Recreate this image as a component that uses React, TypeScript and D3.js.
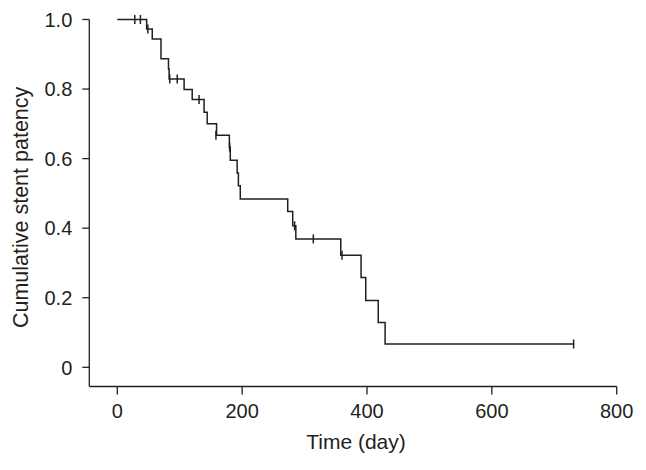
import React from "react";
import * as d3 from "d3";

const stepTimes = [0, 47, 56, 70, 82, 83, 107, 120, 139, 144, 159, 179.5, 181, 192, 194, 197, 273, 281, 286, 358, 390.5, 398, 418, 429, 731];
const survival = [1, 0.973, 0.944, 0.887, 0.858, 0.829, 0.799, 0.77, 0.733, 0.7, 0.667, 0.633, 0.595, 0.559, 0.522, 0.484, 0.448, 0.407, 0.369, 0.322, 0.258, 0.192, 0.129, 0.067, 0.067];
const censorTimes = [28, 37, 49, 84, 96, 131, 158, 180, 284, 314, 360, 731];
const censorSurv = [1, 1, 0.973, 0.829, 0.829, 0.77, 0.667, 0.633, 0.407, 0.369, 0.322, 0.067];
const xTicks = [0, 200, 400, 600, 800];
const yTicks = [0, 0.2, 0.4, 0.6, 0.8, 1.0];
const yTickLabels = ["0", "0.2", "0.4", "0.6", "0.8", "1.0"];
const xTitle = "Time (day)";
const yTitle = "Cumulative stent patency";

export default function App() {
  const W = 646, H = 470;
  const x = d3.scaleLinear().domain([0, 800]).range([117.3, 616.7]);
  const y = d3.scaleLinear().domain([0, 1]).range([367.3, 19.5]);
  const axisX = 89.3;
  const axisY = 386.5;
  const color = "#231f20";
  const font = "Liberation Sans, Arial, sans-serif";
  const pts: [number, number][] = stepTimes.map((t, i) => [t, survival[i]]);
  const line = d3.line<[number, number]>().x(d => x(d[0])).y(d => y(d[1])).curve(d3.curveStepAfter);
  return (
    <div style={{ position: "absolute", left: 0, top: 0 }}>
      <svg width={W} height={H} style={{ display: "block", background: "#fff" }}>
        <line x1={axisX} x2={axisX} y1={y(1)} y2={axisY} stroke={color} strokeWidth={1.3} />
        <line x1={axisX} x2={x(800)} y1={axisY} y2={axisY} stroke={color} strokeWidth={1.3} />
        {yTicks.map((v, i) => (
          <g key={"y" + i}>
            <line x1={axisX - 7} x2={axisX} y1={y(v)} y2={y(v)} stroke={color} strokeWidth={1.3} />
            <text x={axisX - 17} y={y(v)} dy="0.36em" textAnchor="end" fontFamily={font} fontSize={20} fill={color}>{yTickLabels[i]}</text>
          </g>
        ))}
        {xTicks.map((v, i) => (
          <g key={"x" + i}>
            <line x1={x(v)} x2={x(v)} y1={axisY} y2={axisY + 8} stroke={color} strokeWidth={1.3} />
            <text x={x(v)} y={418} textAnchor="middle" fontFamily={font} fontSize={20} fill={color}>{String(v)}</text>
          </g>
        ))}
        <text x={356} y={449} textAnchor="middle" fontFamily={font} fontSize={21} fill={color}>{xTitle}</text>
        <text transform={`translate(28,${(y(0) + y(1)) / 2 + 14}) rotate(-90)`} textAnchor="middle" fontFamily={font} fontSize={21.5} fill={color}>{yTitle}</text>
        <path d={line(pts) || ""} fill="none" stroke={color} strokeWidth={1.5} />
        {censorTimes.map((t, i) => (
          <line key={"c" + i} x1={x(t)} x2={x(t)} y1={y(censorSurv[i]) - 4.5} y2={y(censorSurv[i]) + 4.5} stroke={color} strokeWidth={1.5} />
        ))}
      </svg>
    </div>
  );
}
